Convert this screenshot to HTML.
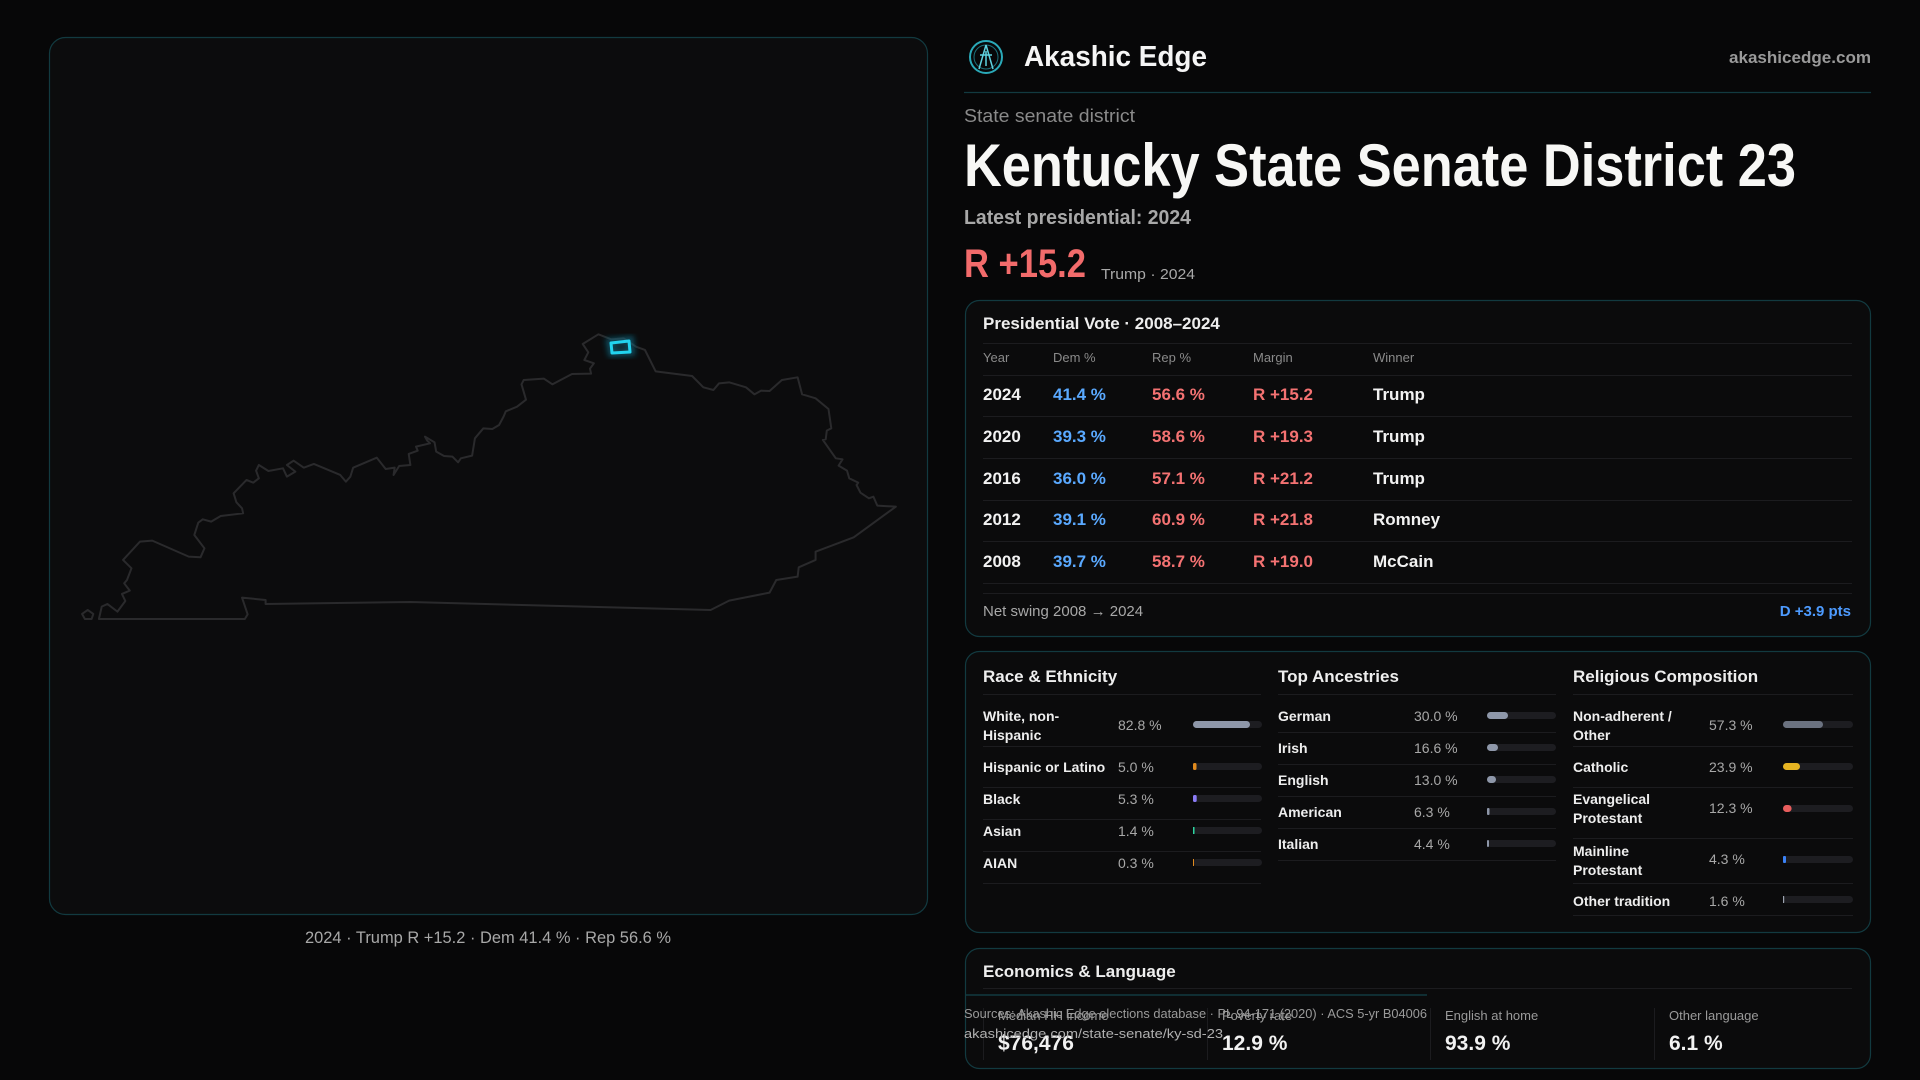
<!DOCTYPE html>
<html><head><meta charset="utf-8"><style>
html,body{margin:0;padding:0;background:#070708;}
svg{display:block;font-family:"Liberation Sans",sans-serif;}
</style></head><body>
<svg width="1920" height="1080" viewBox="0 0 1920 1080" xmlns="http://www.w3.org/2000/svg">
<rect width="1920" height="1080" fill="#070708"/>
<defs>
<filter id="glow" x="-50%" y="-50%" width="200%" height="200%"><feGaussianBlur stdDeviation="3"/></filter>
</defs>
<!-- Map panel -->
<rect x="49.5" y="37.5" width="878" height="877" rx="16" fill="#0c0c0d" stroke="#123a40" stroke-width="1.2"/>
<g transform="translate(40,300) scale(0.5612,0.3333)">
<path fill="none" stroke="#2a2a2c" stroke-width="2" vector-effect="non-scaling-stroke" stroke-linejoin="round" d="M105,957 L365,957 370,943 360,893 402,900 402,912 660,906 1195,930 1228,902 1300,878 1312,840 1350,830 1352,802 1382,780 1382,755 1450,712 1525,620 1492,617 1485,590 1477,595 1462,578 1455,555 1458,548 1442,535 1438,512 1423,497 1430,478 1418,475 1395,420 1400,418 1402,392 1410,385 1405,327 1382,295 1358,283 1350,232 1322,240 1300,273 1285,272 1273,283 1258,262 1228,247 1210,250 1200,270 1182,262 1162,228 1097,214 1078,150 1062,140 1040,115 1018,118 995,103 967,132 977,157 970,180 987,190 980,206 982,221 948,222 913,253 898,236 862,240 858,253 866,299 850,320 830,334 826,350 818,375 806,387 790,385 775,415 770,467 750,475 745,487 735,470 720,468 706,455 703,427 686,410 690,422 695,430 670,440 673,452 657,462 660,495 640,498 630,525 632,503 616,507 600,473 558,503 553,530 545,545 535,525 488,492 470,503 452,482 440,495 455,515 440,530 433,505 407,513 390,495 385,512 390,535 380,548 368,540 345,580 350,607 360,625 362,640 322,648 305,665 290,658 282,668 275,705 293,745 286,772 265,770 200,722 178,725 148,780 163,805 155,840 150,850 160,872 146,882 152,903 138,935 120,912 110,920 Z M75,942 L85,930 95,942 92,957 80,957 Z"/>
</g>
<path d="M610,342 L630,340 631,352 612,353 Z" fill="none" stroke="#0e7490" stroke-width="8" opacity="0.6" filter="url(#glow)"/>
<path d="M611,343 L629,341 630,352 612,353 Z" fill="none" stroke="#22d3ee" stroke-width="3" stroke-linejoin="round"/>
<text x="488" y="943" font-size="17" fill="#a8a8a8" text-anchor="middle" textLength="366" lengthAdjust="spacingAndGlyphs">2024 · Trump R +15.2 · Dem 41.4 % · Rep 56.6 %</text>

<!-- Header -->
<circle cx="986" cy="57" r="16" fill="none" stroke="#2aa9b8" stroke-width="2"/>
<circle cx="986" cy="57" r="12" fill="none" stroke="#1c6f7a" stroke-width="1"/>
<path d="M986,45 L979,69 M986,45 L993,69 M980,55 L992,55 M986,51 L986,66" stroke="#5fd3e0" stroke-width="1.5" fill="none"/>
<text x="1024" y="66" font-size="29" font-weight="bold" fill="#f5f5f5" textLength="183" lengthAdjust="spacingAndGlyphs">Akashic Edge</text>
<text x="1871" y="63" font-size="17" font-weight="bold" fill="#9a9a9a" text-anchor="end" textLength="142" lengthAdjust="spacingAndGlyphs">akashicedge.com</text>
<line x1="964" y1="92.5" x2="1871" y2="92.5" stroke="#123a40" stroke-width="1.2"/>
<text x="964" y="122" font-size="18" fill="#8a8a8a" textLength="171" lengthAdjust="spacingAndGlyphs">State senate district</text>
<text x="964" y="186" font-size="60" font-weight="bold" fill="#f7f7f5" textLength="832" lengthAdjust="spacingAndGlyphs">Kentucky State Senate District 23</text>
<text x="964" y="224" font-size="20" font-weight="bold" fill="#a8a8a8" textLength="227" lengthAdjust="spacingAndGlyphs">Latest presidential: 2024</text>
<text x="964" y="277" font-size="40" font-weight="bold" fill="#f26b6b" textLength="122" lengthAdjust="spacingAndGlyphs">R +15.2</text>
<text x="1101" y="279" font-size="15" fill="#a8a8a8" textLength="94" lengthAdjust="spacingAndGlyphs">Trump · 2024</text>

<!-- Presidential panel -->
<rect x="965.5" y="300.5" width="905" height="336" rx="14" fill="#0b0b0c" stroke="#123a40" stroke-width="1.2"/>
<text x="983" y="329" font-size="17" font-weight="bold" fill="#eeeeee">Presidential Vote · 2008–2024</text>
<g stroke="#1c1c1f" stroke-width="1">
<line x1="983" y1="343.5" x2="1852" y2="343.5"/>
<line x1="983" y1="375.5" x2="1852" y2="375.5"/>
<line x1="983" y1="416.5" x2="1852" y2="416.5"/>
<line x1="983" y1="458.5" x2="1852" y2="458.5"/>
<line x1="983" y1="500.5" x2="1852" y2="500.5"/>
<line x1="983" y1="541.5" x2="1852" y2="541.5"/>
<line x1="983" y1="583.5" x2="1852" y2="583.5"/>
<line x1="983" y1="593.5" x2="1852" y2="593.5"/>
</g>
<g font-size="13" fill="#8a8a8a">
<text x="983" y="362">Year</text><text x="1053" y="362">Dem %</text><text x="1152" y="362">Rep %</text><text x="1253" y="362">Margin</text><text x="1373" y="362">Winner</text>
</g>
<g font-size="17" font-weight="bold">
<g fill="#f2f2f2"><text x="983" y="400">2024</text><text x="983" y="442">2020</text><text x="983" y="484">2016</text><text x="983" y="525">2012</text><text x="983" y="567">2008</text></g>
<g fill="#5aa9ff"><text x="1053" y="400">41.4 %</text><text x="1053" y="442">39.3 %</text><text x="1053" y="484">36.0 %</text><text x="1053" y="525">39.1 %</text><text x="1053" y="567">39.7 %</text></g>
<g fill="#f47272"><text x="1152" y="400">56.6 %</text><text x="1152" y="442">58.6 %</text><text x="1152" y="484">57.1 %</text><text x="1152" y="525">60.9 %</text><text x="1152" y="567">58.7 %</text>
<text x="1253" y="400">R +15.2</text><text x="1253" y="442">R +19.3</text><text x="1253" y="484">R +21.2</text><text x="1253" y="525">R +21.8</text><text x="1253" y="567">R +19.0</text></g>
<g fill="#f2f2f2"><text x="1373" y="400">Trump</text><text x="1373" y="442">Trump</text><text x="1373" y="484">Trump</text><text x="1373" y="525">Romney</text><text x="1373" y="567">McCain</text></g>
</g>
<text x="983" y="616" font-size="15" fill="#a8a8a8">Net swing 2008 → 2024</text>
<text x="1851" y="616" font-size="15" font-weight="bold" fill="#4d9bff" text-anchor="end">D +3.9 pts</text>

<!-- Demographics panel -->
<rect x="965.5" y="651.5" width="905" height="281" rx="14" fill="#0b0b0c" stroke="#123a40" stroke-width="1.2"/>
<g font-size="17" font-weight="bold" fill="#eeeeee">
<text x="983" y="682">Race &amp; Ethnicity</text>
<text x="1278" y="682">Top Ancestries</text>
<text x="1573" y="682">Religious Composition</text>
</g>
<g stroke="#1c1c1f" stroke-width="1">
<line x1="983" y1="694.5" x2="1261" y2="694.5"/><line x1="1278" y1="694.5" x2="1556" y2="694.5"/><line x1="1573" y1="694.5" x2="1853" y2="694.5"/>
<line x1="983" y1="746.5" x2="1261" y2="746.5"/><line x1="983" y1="787.5" x2="1261" y2="787.5"/><line x1="983" y1="819.5" x2="1261" y2="819.5"/><line x1="983" y1="851.5" x2="1261" y2="851.5"/><line x1="983" y1="883.5" x2="1261" y2="883.5"/>
<line x1="1278" y1="732.5" x2="1556" y2="732.5"/><line x1="1278" y1="764.5" x2="1556" y2="764.5"/><line x1="1278" y1="796.5" x2="1556" y2="796.5"/><line x1="1278" y1="828.5" x2="1556" y2="828.5"/><line x1="1278" y1="860.5" x2="1556" y2="860.5"/>
<line x1="1573" y1="746.5" x2="1853" y2="746.5"/><line x1="1573" y1="787.5" x2="1853" y2="787.5"/><line x1="1573" y1="838.5" x2="1853" y2="838.5"/><line x1="1573" y1="883.5" x2="1853" y2="883.5"/><line x1="1573" y1="915.5" x2="1853" y2="915.5"/>
</g>
<g font-size="14" font-weight="bold" fill="#eeeeee">
<text x="983" y="721">White, non-</text><text x="983" y="740">Hispanic</text>
<text x="983" y="772">Hispanic or Latino</text><text x="983" y="804">Black</text><text x="983" y="836">Asian</text><text x="983" y="868">AIAN</text>
<text x="1278" y="721">German</text><text x="1278" y="753">Irish</text><text x="1278" y="785">English</text><text x="1278" y="817">American</text><text x="1278" y="849">Italian</text>
<text x="1573" y="721">Non-adherent /</text><text x="1573" y="740">Other</text><text x="1573" y="772">Catholic</text>
<text x="1573" y="804">Evangelical</text><text x="1573" y="823">Protestant</text>
<text x="1573" y="856">Mainline</text><text x="1573" y="875">Protestant</text>
<text x="1573" y="906">Other tradition</text>
</g>
<g font-size="14" fill="#a8a8a8">
<text x="1118" y="730">82.8 %</text><text x="1118" y="772">5.0 %</text><text x="1118" y="804">5.3 %</text><text x="1118" y="836">1.4 %</text><text x="1118" y="868">0.3 %</text>
<text x="1414" y="721">30.0 %</text><text x="1414" y="753">16.6 %</text><text x="1414" y="785">13.0 %</text><text x="1414" y="817">6.3 %</text><text x="1414" y="849">4.4 %</text>
<text x="1709" y="730">57.3 %</text><text x="1709" y="772">23.9 %</text><text x="1709" y="813">12.3 %</text><text x="1709" y="864">4.3 %</text><text x="1709" y="906">1.6 %</text>
</g>
<g fill="#1d1d21">
<rect x="1193" y="721" width="69" height="7" rx="3.5"/><rect x="1193" y="763" width="69" height="7" rx="3.5"/><rect x="1193" y="795" width="69" height="7" rx="3.5"/><rect x="1193" y="827" width="69" height="7" rx="3.5"/><rect x="1193" y="859" width="69" height="7" rx="3.5"/>
<rect x="1487" y="712" width="69" height="7" rx="3.5"/><rect x="1487" y="744" width="69" height="7" rx="3.5"/><rect x="1487" y="776" width="69" height="7" rx="3.5"/><rect x="1487" y="808" width="69" height="7" rx="3.5"/><rect x="1487" y="840" width="69" height="7" rx="3.5"/>
<rect x="1783" y="721" width="70" height="7" rx="3.5"/><rect x="1783" y="763" width="70" height="7" rx="3.5"/><rect x="1783" y="805" width="70" height="7" rx="3.5"/><rect x="1783" y="856" width="70" height="7" rx="3.5"/><rect x="1783" y="896" width="70" height="7" rx="3.5"/>
</g>
<rect x="1193" y="721" width="57" height="7" rx="3.5" fill="#8e97a9"/>
<rect x="1193" y="763" width="3.5" height="7" rx="1.5" fill="#e08a1e"/>
<rect x="1193" y="795" width="3.7" height="7" rx="1.5" fill="#8b7cf6"/>
<rect x="1193" y="827" width="1.5" height="7" fill="#2dd4a0"/>
<rect x="1193" y="859" width="1" height="7" fill="#e08a1e"/>
<rect x="1487" y="712" width="21" height="7" rx="3.5" fill="#8e97a9"/>
<rect x="1487" y="744" width="11" height="7" rx="3.5" fill="#8e97a9"/>
<rect x="1487" y="776" width="9" height="7" rx="3.5" fill="#8e97a9"/>
<rect x="1487" y="808" width="2.5" height="7" rx="1" fill="#8e97a9"/>
<rect x="1487" y="840" width="2" height="7" rx="1" fill="#8e97a9"/>
<rect x="1783" y="721" width="40" height="7" rx="3.5" fill="#6b7280"/>
<rect x="1783" y="763" width="17" height="7" rx="3.5" fill="#e6b422"/>
<rect x="1783" y="805" width="8.6" height="7" rx="3.5" fill="#e85d5d"/>
<rect x="1783" y="856" width="3" height="7" rx="1" fill="#3b82f6"/>
<rect x="1783" y="896" width="1.2" height="7" fill="#9ca3af"/>

<!-- Economics panel -->
<rect x="965.5" y="948.5" width="905" height="120" rx="14" fill="#0b0b0c" stroke="#123a40" stroke-width="1.2"/>
<text x="983" y="977" font-size="17" font-weight="bold" fill="#eeeeee">Economics &amp; Language</text>
<line x1="983" y1="988.5" x2="1852" y2="988.5" stroke="#1c1c1f"/>
<line x1="965" y1="995" x2="1427" y2="995" stroke="#123a40" stroke-width="1.5"/>
<g stroke="#1c1c1f"><line x1="983.5" y1="1008" x2="983.5" y2="1060"/><line x1="1207.5" y1="1008" x2="1207.5" y2="1060"/><line x1="1430.5" y1="1008" x2="1430.5" y2="1060"/><line x1="1654.5" y1="1008" x2="1654.5" y2="1060"/></g>
<g font-size="13" fill="#9a9a9a">
<text x="998" y="1020">Median HH income</text><text x="1222" y="1020">Poverty rate</text><text x="1445" y="1020">English at home</text><text x="1669" y="1020">Other language</text>
</g>
<g font-size="21" font-weight="bold" fill="#f2f2f2">
<text x="998" y="1050">$76,476</text><text x="1222" y="1050">12.9 %</text><text x="1445" y="1050">93.9 %</text><text x="1669" y="1050">6.1 %</text>
</g>
<text x="964" y="1018" font-size="13" fill="#9a9a9a" textLength="463" lengthAdjust="spacingAndGlyphs">Sources: Akashic Edge elections database · PL 94-171 (2020) · ACS 5-yr B04006</text>
<text x="964" y="1038" font-size="13" fill="#b0b0b0" textLength="259" lengthAdjust="spacingAndGlyphs">akashicedge.com/state-senate/ky-sd-23</text>
</svg>
</body></html>
